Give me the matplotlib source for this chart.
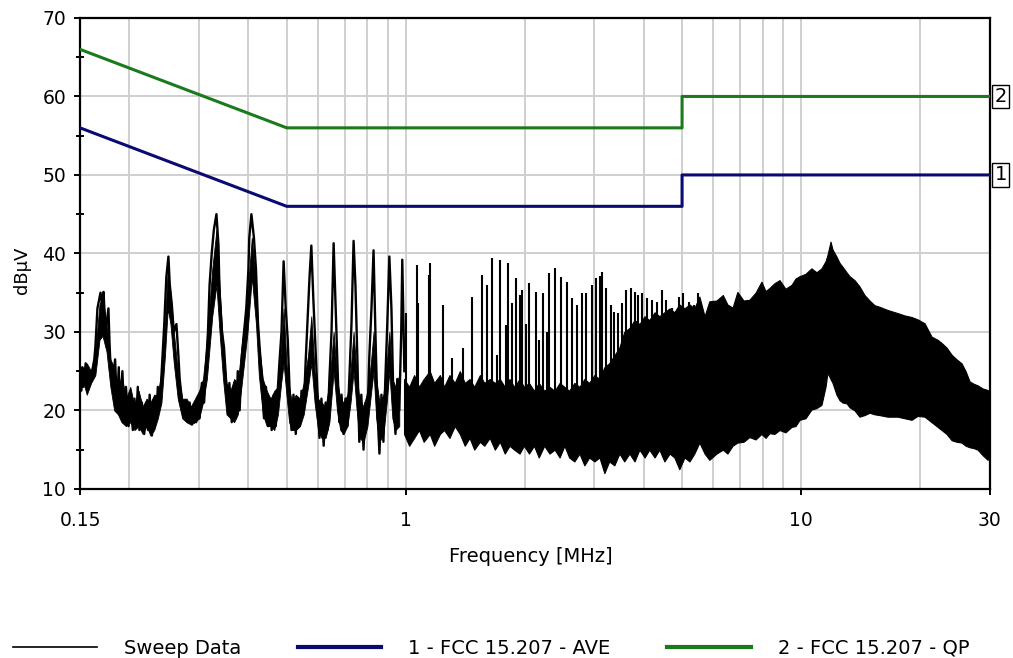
import numpy as np
import matplotlib.pyplot as plt
from matplotlib.lines import Line2D
from matplotlib.ticker import FixedLocator, NullFormatter

# Limites FCC 15.207 (MHz, dBuV)
lim_f = [0.15, 0.5, 5.0, 5.0, 30.0]
ave_db = [56, 46, 46, 50, 50]
qp_db = [66, 56, 56, 60, 60]

# Barrido: zona de baja frecuencia (picos anchos + ruido)
lf_f = [0.150, 0.151, 0.152, 0.153, 0.155, 0.159, 0.161, 0.163, 0.164, 0.166,
        0.169, 0.171, 0.172, 0.174, 0.177, 0.178, 0.179, 0.181, 0.184, 0.186,
        0.188, 0.189, 0.192, 0.194, 0.196, 0.199, 0.201, 0.204, 0.206, 0.208,
        0.210, 0.212, 0.215, 0.218, 0.220, 0.223, 0.225, 0.228, 0.231, 0.234,
        0.236, 0.239, 0.242, 0.245, 0.248, 0.251, 0.253, 0.256, 0.259, 0.263,
        0.266, 0.268, 0.272, 0.275, 0.278, 0.281, 0.284, 0.288, 0.291, 0.295,
        0.298, 0.301, 0.305, 0.309, 0.312, 0.316, 0.319, 0.323, 0.327, 0.332,
        0.336, 0.338, 0.343, 0.347, 0.351, 0.355, 0.358, 0.363, 0.367, 0.372,
        0.376, 0.380, 0.385, 0.390, 0.395, 0.400, 0.402, 0.407, 0.413, 0.418,
        0.423, 0.427, 0.433, 0.438, 0.443, 0.449, 0.452, 0.458, 0.464, 0.469,
        0.475, 0.479, 0.485, 0.491, 0.497, 0.503, 0.508, 0.514, 0.520, 0.527,
        0.533, 0.538, 0.545, 0.552, 0.558, 0.564, 0.571, 0.577, 0.584, 0.591,
        0.598, 0.605, 0.612, 0.620, 0.627, 0.634, 0.641, 0.649, 0.657, 0.664,
        0.672, 0.679, 0.688, 0.696, 0.704, 0.712, 0.720, 0.729, 0.738, 0.746,
        0.755, 0.763, 0.772, 0.782, 0.791, 0.800, 0.809, 0.819, 0.829, 0.838,
        0.848, 0.858, 0.868, 0.878, 0.888, 0.898, 0.909, 0.920, 0.931, 0.942,
        0.952, 0.963, 0.974, 0.980, 0.992]
lf_db = [24.0, 22.5, 25.5, 23.0, 26.0, 23.5, 25.0, 26.5, 28.0, 33.0,
         35.0, 33.0, 35.1, 30.0, 33.0, 29.0, 26.0, 23.0, 26.5, 20.5,
         25.5, 19.5, 25.0, 18.5, 23.0, 18.0, 22.0, 17.5, 21.5, 18.5,
         23.0, 17.5, 21.0, 17.0, 20.5, 17.5, 22.0, 16.8, 21.5, 19.0,
         23.0, 21.0, 26.0, 31.0, 37.0, 39.6, 36.0, 33.5, 30.0, 31.0,
         27.0, 24.0, 21.0, 19.0, 21.0, 18.5, 21.0, 18.2, 20.5, 18.5,
         21.0, 19.0, 23.5, 21.0, 25.0, 30.0, 36.0, 40.0, 43.0, 45.0,
         41.0, 35.0, 30.0, 28.0, 24.0, 20.0, 23.5, 18.5, 23.0, 19.0,
         25.0, 20.0, 27.0, 30.0, 33.0, 38.0, 42.0, 45.0, 42.0, 38.0,
         31.0, 28.0, 24.0, 19.0, 23.0, 18.0, 21.5, 17.5, 22.0, 18.0,
         23.0, 26.0, 30.0, 39.0, 33.0, 29.0, 23.0, 17.5, 22.0, 17.0,
         21.5, 18.0, 22.5, 20.0, 26.0, 31.0, 37.0, 41.0, 34.0, 28.0,
         22.0, 16.5, 21.5, 15.5, 21.0, 17.5, 24.0, 30.0, 41.3, 34.0,
         26.0, 18.5, 22.0, 17.0, 21.5, 18.0, 24.0, 31.0, 41.6, 36.0,
         26.0, 16.0, 22.0, 15.0, 21.0, 19.0, 27.0, 33.0, 40.4, 30.0,
         20.0, 14.5, 22.0, 16.0, 24.0, 31.0, 39.6, 33.0, 21.0, 17.0,
         24.0, 20.0, 30.0, 39.2, 25.0]

# Nucleo de ruido bajo 1 MHz (envolventes)
lfb_f = [0.150, 0.153, 0.156, 0.160, 0.164, 0.168, 0.171, 0.175, 0.179, 0.183,
         0.187, 0.191, 0.196, 0.201, 0.206, 0.211, 0.216, 0.221, 0.226, 0.231,
         0.236, 0.241, 0.246, 0.250, 0.254, 0.259, 0.265, 0.272, 0.279, 0.286,
         0.293, 0.300, 0.307, 0.314, 0.324, 0.332, 0.338, 0.345, 0.352, 0.360,
         0.368, 0.376, 0.384, 0.398, 0.408, 0.418, 0.425, 0.435, 0.445, 0.455,
         0.465, 0.475, 0.484, 0.491, 0.499, 0.507, 0.515, 0.527, 0.540, 0.552,
         0.566, 0.577, 0.588, 0.600, 0.612, 0.627, 0.641, 0.657, 0.670, 0.683,
         0.696, 0.712, 0.725, 0.738, 0.750, 0.763, 0.782, 0.800, 0.816, 0.829,
         0.842, 0.858, 0.878, 0.895, 0.909, 0.925, 0.942, 0.963]
lfb_lo = [22.5, 23.5, 22.0, 23.5, 24.5, 29.0, 29.5, 27.5, 23.0, 20.0,
          19.5, 18.5, 18.0, 18.5, 17.5, 18.0, 17.0, 18.0, 16.8, 17.5,
          19.0, 21.0, 27.0, 33.0, 31.0, 26.0, 21.5, 19.0, 18.5, 18.2,
          18.5, 19.0, 21.0, 24.0, 32.0, 36.0, 30.0, 24.0, 19.5, 19.0,
          18.5, 19.5, 23.0, 30.0, 37.0, 31.0, 24.5, 19.5, 18.0, 18.0,
          17.5, 19.5, 23.5, 26.0, 22.0, 18.5, 17.5, 17.5, 18.0, 19.5,
          23.0, 26.0, 21.0, 17.5, 16.5, 16.5, 18.5, 25.0, 20.0, 17.5,
          17.0, 18.0, 21.0, 25.0, 20.5, 16.5, 16.0, 18.0, 22.0, 25.0,
          19.0, 16.0, 17.0, 21.0, 25.0, 19.0, 17.5, 18.0]
lfb_hi = [25.5, 24.5, 26.0, 25.0, 27.5, 33.5, 34.5, 31.0, 26.5, 25.5,
          22.5, 24.5, 21.5, 23.0, 20.5, 22.5, 20.5, 21.5, 21.0, 22.0,
          22.0, 25.0, 31.0, 38.0, 35.0, 30.0, 25.0, 21.5, 21.5, 20.5,
          21.5, 22.5, 24.0, 29.0, 38.0, 43.0, 36.0, 28.0, 23.5, 22.5,
          24.0, 23.5, 28.0, 35.0, 42.0, 36.0, 28.5, 24.0, 22.5, 21.5,
          22.5, 23.0, 28.0, 33.0, 26.0, 23.0, 21.0, 22.0, 21.5, 23.5,
          27.0, 32.0, 25.0, 21.5, 21.0, 20.5, 23.5, 30.0, 24.0, 21.5,
          21.0, 22.0, 25.0, 30.0, 25.0, 21.5, 20.5, 22.5, 26.0, 30.0,
          24.0, 21.0, 22.0, 26.0, 30.0, 24.0, 23.0, 24.5]

# Armonicos separados (1 - 5.7 MHz): cima y pie de cada raya
spk_f = [1.000, 1.067, 1.076, 1.146, 1.154, 1.240, 1.312, 1.398, 1.474, 1.562,
         1.608, 1.653, 1.705, 1.735, 1.794, 1.817, 1.860, 1.901, 1.949, 1.969,
         2.019, 2.054, 2.136, 2.177, 2.228, 2.281, 2.308, 2.390, 2.471, 2.563,
         2.639, 2.717, 2.797, 2.863, 2.965, 3.035, 3.102, 3.143, 3.217, 3.306,
         3.371, 3.451, 3.532, 3.615, 3.715, 3.810, 3.878, 3.969, 4.086, 4.207,
         4.331, 4.451, 4.564, 4.718, 4.810, 4.924, 5.040, 5.219, 5.374, 5.502,
         5.696]
spk_top = [32.4, 38.5, 33.7, 37.2, 38.8, 33.4, 26.7, 28.0, 34.5, 37.3,
           36.0, 39.4, 27.1, 39.2, 30.9, 38.8, 33.7, 36.9, 34.7, 35.4,
           31.0, 36.2, 35.1, 29.0, 35.0, 30.0, 37.5, 38.1, 37.0, 36.4,
           34.3, 33.4, 35.0, 35.0, 36.0, 36.9, 37.1, 37.6, 35.6, 33.4,
           32.6, 32.4, 33.7, 35.4, 35.6, 35.1, 34.7, 35.0, 34.3, 34.1,
           33.8, 35.4, 34.1, 33.1, 32.2, 34.5, 35.0, 33.8, 33.4, 35.0,
           31.9]
spk_low = [19, 18, 20, 19, 18, 19, 20, 19, 18, 17,
           19, 17, 19, 17, 19, 17, 18, 17, 18, 17,
           18, 17, 17, 18, 17, 18, 17, 16, 16, 16,
           16, 16, 16, 16, 16, 16, 16, 16, 16, 16,
           16, 16, 16, 16, 16, 16, 16, 16, 16, 16,
           16, 16, 16, 16, 16, 16, 16, 16, 16, 16,
           16]

# Banda de ruido / zona densa (envolventes inferior y superior)
band_f = [0.99, 1.02, 1.05, 1.08, 1.11, 1.15, 1.18, 1.22, 1.25, 1.29,
          1.33, 1.37, 1.41, 1.45, 1.49, 1.54, 1.58, 1.63, 1.68, 1.73,
          1.78, 1.83, 1.88, 1.94, 1.99, 2.05, 2.11, 2.17, 2.24, 2.31,
          2.38, 2.45, 2.52, 2.59, 2.67, 2.75, 2.83, 2.91, 3.00, 3.09,
          3.18, 3.27, 3.37, 3.47, 3.57, 3.68, 3.79, 3.90, 4.02, 4.13,
          4.26, 4.38, 4.51, 4.65, 4.78, 4.92, 5.07, 5.22, 5.37, 5.53,
          5.70, 5.86, 6.11, 6.34, 6.51, 6.71, 6.90, 7.15, 7.40, 7.67,
          7.94, 8.13, 8.32, 8.56, 8.82, 9.13, 9.46, 9.68, 9.91, 10.26,
          10.62, 10.94, 11.26, 11.53, 11.66, 11.87, 12.01, 12.29, 12.51, 12.73,
          13.03, 13.26, 13.65, 14.05, 14.47, 14.90, 15.34, 15.79, 16.54, 17.54,
          18.27, 19.03, 19.71, 20.53, 21.38, 22.14, 22.66, 23.33, 24.03, 24.74,
          25.46, 26.07, 26.68, 27.31, 27.95, 28.78, 29.63, 30.0]
band_lo = [17.0, 15.5, 16.5, 17.5, 16.0, 17.0, 15.5, 17.0, 17.5, 16.5,
           18.0, 17.0, 15.5, 16.5, 15.0, 16.0, 15.5, 16.5, 15.0, 16.0,
           14.5, 15.5, 15.0, 14.5, 15.5, 14.5, 15.5, 14.0, 15.5, 14.5,
           15.0, 14.0, 15.5, 14.0, 13.5, 14.5, 13.0, 14.0, 13.5, 14.0,
           12.0, 13.5, 13.0, 14.5, 13.5, 14.5, 13.5, 15.0, 14.0, 15.0,
           14.0, 15.0, 13.5, 14.5, 14.0, 12.5, 14.0, 13.5, 14.5, 15.9,
           14.5, 13.7, 14.5, 15.0, 14.5, 15.5, 15.9, 16.0, 16.6, 16.3,
           17.0, 16.5, 17.1, 17.0, 17.5, 17.2, 17.9, 18.0, 18.8, 19.0,
           20.1, 20.3, 20.7, 23.0, 24.8, 24.0, 23.5, 22.0, 21.3, 21.0,
           20.9, 20.4, 20.0, 19.2, 19.4, 19.7, 19.5, 19.4, 19.2, 19.2,
           19.0, 18.8, 19.3, 19.2, 18.5, 17.9, 17.5, 17.0, 16.2, 16.0,
           15.9, 15.5, 15.3, 15.2, 15.0, 14.3, 13.7, 14.0]
band_hi = [24.0, 23.0, 24.5, 23.0, 24.0, 25.0, 23.5, 24.5, 23.0, 24.5,
           23.5, 25.0, 23.5, 24.0, 23.0, 24.5, 23.5, 24.0, 23.5, 24.0,
           23.0, 24.0, 23.0, 24.0, 23.0, 23.5, 22.5, 23.5, 22.5, 23.0,
           22.5, 23.5, 23.0, 22.5, 23.5, 23.0, 24.0, 23.5, 24.5, 24.0,
           25.5, 26.0, 27.0, 28.0, 30.0, 30.5, 31.5, 31.0, 32.0, 31.5,
           32.5, 32.0, 32.5, 33.0, 32.5, 33.5, 33.0, 33.5, 33.0, 34.5,
           32.0, 33.9, 34.0, 34.7, 33.5, 33.1, 35.1, 34.0, 34.1, 35.0,
           36.4, 35.2, 35.6, 36.2, 36.6, 35.5, 36.0, 36.8, 37.1, 37.4,
           38.1, 37.6, 38.1, 39.0, 39.8, 41.5, 40.5, 39.6, 38.8, 38.3,
           37.6, 37.1, 36.6, 35.8, 34.7, 34.0, 33.4, 33.2, 32.8, 32.4,
           32.1, 31.9, 31.6, 31.1, 29.4, 29.0, 28.6, 28.0, 27.1, 26.5,
           26.0, 25.0, 23.7, 23.4, 23.2, 22.8, 22.6, 22.4]

# Ejes
x_ticks = [0.15, 1, 10, 30]
x_ticklabels = ['0.15', '1', '10', '30']
x_grid = [0.2, 0.3, 0.4, 0.5, 0.6, 0.7, 0.8, 0.9, 1, 2, 3, 4, 5, 6, 7, 8, 9, 10, 20]
y_ticks = [10, 20, 30, 40, 50, 60, 70]

c_ave = '#0a0a72'
c_qp = '#1b7a1b'

plt.rcParams['font.family'] = 'DejaVu Sans'
fig = plt.figure(figsize=(10.13, 6.58), dpi=100)
ax = fig.add_axes([0.079, 0.257, 0.898, 0.7157])

ax.set_xscale('log')
ax.set_xlim(0.15, 30)
ax.set_ylim(10, 70)

# rejilla
for g in x_grid:
    ax.axvline(g, color='#cfcfcf', lw=1.4, zorder=0)
for g in y_ticks[1:-1]:
    ax.axhline(g, color='#cfcfcf', lw=1.4, zorder=0)

# barrido
ax.fill_between(lfb_f, lfb_lo, lfb_hi, color='black', lw=0.6, zorder=2)
ax.fill_between(band_f, band_lo, band_hi, color='black', lw=0.8, zorder=2)
ax.vlines(spk_f, spk_low, spk_top, color='black', lw=1.5, zorder=2)
ax.plot(lf_f, lf_db, color='black', lw=1.7, zorder=2)

# limites
ax.plot(lim_f, ave_db, color=c_ave, lw=2.2, zorder=3)
ax.plot(lim_f, qp_db, color=c_qp, lw=2.2, zorder=3)

ax.text(1.012, 60, '2', transform=ax.get_yaxis_transform(), ha='center', va='center',
        fontsize=14, bbox=dict(boxstyle='square,pad=0.12', fc='white', ec='black', lw=1),
        clip_on=False, zorder=5)
ax.text(1.012, 50, '1', transform=ax.get_yaxis_transform(), ha='center', va='center',
        fontsize=14, bbox=dict(boxstyle='square,pad=0.12', fc='white', ec='black', lw=1),
        clip_on=False, zorder=5)

ax.xaxis.set_major_locator(FixedLocator(x_ticks))
ax.xaxis.set_minor_locator(FixedLocator([]))
ax.set_xticklabels(x_ticklabels)
ax.xaxis.set_minor_formatter(NullFormatter())
ax.set_yticks(y_ticks)
ax.yaxis.set_minor_locator(FixedLocator([15, 25, 35, 45, 55, 65]))
ax.tick_params(axis='both', which='major', labelsize=13.5, length=4, width=1.4, color='black')
ax.tick_params(axis='x', which='major', pad=12)
ax.tick_params(axis='y', which='major', pad=6)
ax.tick_params(axis='y', which='minor', length=6, width=1.4, direction='inout')
for s in ax.spines.values():
    s.set_linewidth(1.6)
    s.set_color('black')

ax.set_xlabel('Frequency [MHz]', fontsize=14, va='center')
ax.xaxis.set_label_coords(0.496, -0.144)
ax.set_ylabel('dBµV', fontsize=13, va='center')
ax.yaxis.set_label_coords(-0.064, 0.465)

handles = [Line2D([], [], color='black', lw=1.2),
           Line2D([], [], color=c_ave, lw=3),
           Line2D([], [], color=c_qp, lw=3)]
labels = ['Sweep Data', '1 - FCC 15.207 - AVE', '2 - FCC 15.207 - QP']
fig.legend(handles, labels, loc='center', bbox_to_anchor=(0.485, 0.015), ncol=3,
           frameon=False, fontsize=14, handlelength=4.3, handletextpad=1.4,
           columnspacing=2.9, borderpad=0)

fig.savefig('out.png', dpi=100)
